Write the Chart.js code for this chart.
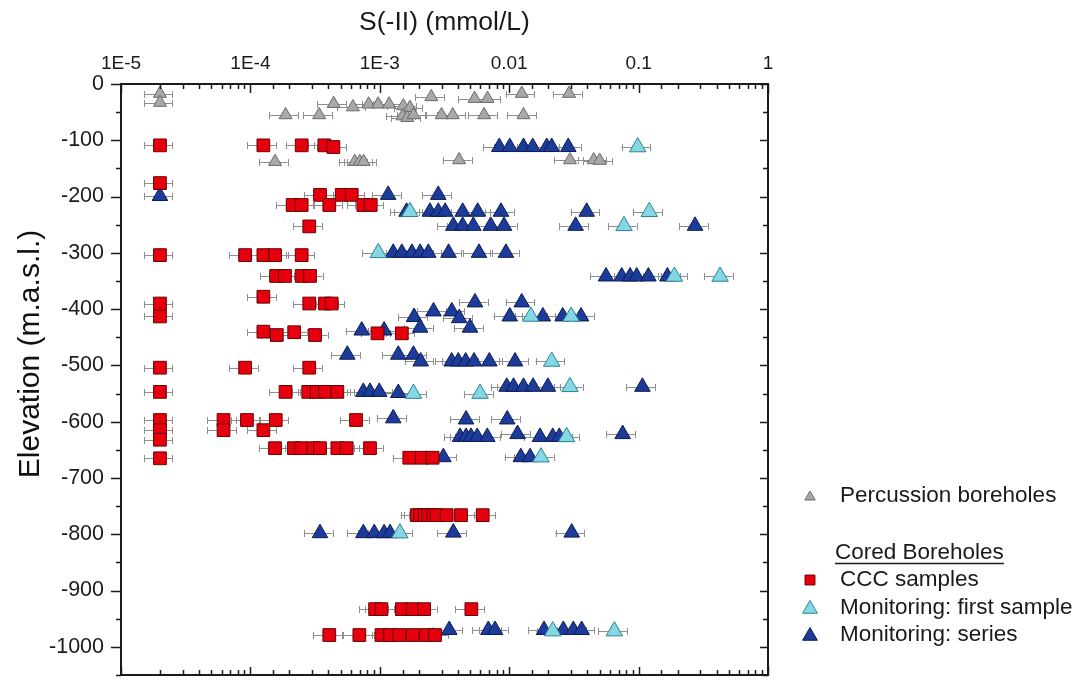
<!DOCTYPE html>
<html>
<head>
<meta charset="utf-8">
<script src="https://cdn.jsdelivr.net/npm/chart.js@4/dist/chart.umd.min.js"></script>
<style>
  html, body { margin: 0; padding: 0; background: #fff; }
</style>
</head>
<body>
<canvas id="c" width="1079" height="682"></canvas>
<script>
// S(-II) (mmol/L) vs elevation (m.a.s.l.), values as [conc, elevation]
const percussion = [
  [2e-5, -17], [2e-5, -33], [2.5e-3, -23], [5.4e-3, -26], [6.8e-3, -26], [0.0125, -17], [0.029, -17],
  [4.4e-4, -35], [6.2e-4, -41], [8.2e-4, -36], [9.7e-4, -36], [1.18e-3, -36], [1.52e-3, -39], [1.71e-3, -42],
  [1.87e-4, -55], [3.4e-4, -55], [1.5e-3, -57], [1.63e-3, -60], [1.82e-3, -55], [3.0e-3, -55], [3.66e-3, -55],
  [6.4e-3, -55], [0.0129, -55],
  [1.55e-4, -138], [6.4e-4, -138], [7.0e-4, -138], [7.5e-4, -138], [4.1e-3, -135], [0.0295, -135],
  [0.045, -135], [0.050, -136]
];

const cccSamples = [
  [2e-5, -109], [1.26e-4, -109], [2.49e-4, -109], [3.73e-4, -109], [4.38e-4, -112],
  [2e-5, -176],
  [3.45e-4, -197], [5.08e-4, -197], [6.07e-4, -197],
  [2.12e-4, -215], [2.49e-4, -215], [4.07e-4, -215], [7.46e-4, -215], [8.51e-4, -215],
  [2.85e-4, -253],
  [2e-5, -304], [9.1e-5, -304], [1.26e-4, -304], [1.55e-4, -304], [2.49e-4, -304],
  [1.58e-4, -341], [1.85e-4, -341], [2.49e-4, -341], [2.89e-4, -341],
  [1.26e-4, -378],
  [2e-5, -390], [2.85e-4, -390], [3.77e-4, -390], [4.25e-4, -390],
  [2e-5, -413],
  [1.26e-4, -440], [1.6e-4, -446], [2.18e-4, -441], [3.16e-4, -446], [9.6e-4, -443], [1.48e-3, -443],
  [2e-5, -504], [9.1e-5, -504], [2.85e-4, -504],
  [2e-5, -547], [1.87e-4, -547], [2.8e-4, -547], [3.25e-4, -547], [3.77e-4, -547], [4.7e-4, -547],
  [2e-5, -597], [6.2e-5, -597], [9.4e-5, -597], [1.57e-4, -597], [6.55e-4, -597],
  [2e-5, -615], [6.2e-5, -615], [1.26e-4, -615],
  [2e-5, -632],
  [1.55e-4, -647], [2.17e-4, -647], [2.46e-4, -647], [3.06e-4, -647], [3.45e-4, -647], [4.7e-4, -647],
  [5.55e-4, -647], [8.4e-4, -647],
  [2e-5, -665], [1.69e-3, -664], [2.11e-3, -664], [2.56e-3, -664],
  [1.93e-3, -766], [2.05e-3, -766], [2.23e-3, -766], [2.37e-3, -766], [2.59e-3, -766], [2.75e-3, -766],
  [3.29e-3, -766], [4.24e-3, -766], [6.24e-3, -766],
  [9.2e-4, -933], [1.03e-3, -933], [1.48e-3, -933], [1.8e-3, -933], [2.2e-3, -933], [5.1e-3, -933],
  [4.07e-4, -979], [6.95e-4, -979], [1.03e-3, -979], [1.2e-3, -979], [1.42e-3, -979], [1.8e-3, -979],
  [2.28e-3, -979], [2.67e-3, -979]
];

const firstSample = [
  [0.0984, -112], [1.71e-3, -227], [0.121, -227], [0.0771, -252], [9.73e-4, -300], [0.189, -342],
  [0.426, -342], [0.0147, -413], [0.0301, -413], [0.0213, -493], [1.82e-3, -550], [5.95e-3, -550],
  [0.0295, -538], [0.0278, -627], [0.0176, -663], [1.43e-3, -798], [0.0217, -972], [0.0649, -972]
];

const monitoringSeries = [
  [8.38e-3, -112], [0.0101, -112], [0.0129, -112], [0.0152, -112], [0.0195, -112], [0.0213, -112], [0.0286, -112],
  [2e-5, -199], [1.16e-3, -197], [2.83e-3, -197],
  [1.61e-3, -227], [2.44e-3, -227], [2.83e-3, -227], [3.2e-3, -227], [4.37e-3, -227], [5.71e-3, -227],
  [8.64e-3, -227], [0.0397, -227],
  [3.7e-3, -252], [4.37e-3, -252], [5.28e-3, -252], [7.2e-3, -252], [9.12e-3, -252], [0.0326, -252], [0.273, -252],
  [1.27e-3, -300], [1.48e-3, -300], [1.77e-3, -300], [2.05e-3, -300], [2.37e-3, -300], [3.4e-3, -300],
  [5.84e-3, -300], [9.44e-3, -300],
  [0.056, -342], [0.074, -342], [0.0859, -342], [0.0967, -342], [0.119, -342], [0.167, -342],
  [5.44e-3, -388], [0.0125, -388],
  [2.6e-3, -404], [3.6e-3, -404],
  [1.84e-3, -414], [0.0101, -413], [0.0182, -413], [0.0259, -413], [0.0359, -413],
  [4.11e-3, -416],
  [2.05e-3, -433], [4.98e-3, -433],
  [7.25e-4, -438], [1.08e-3, -438],
  [5.61e-4, -481], [1.39e-3, -481], [1.82e-3, -481],
  [2.07e-3, -493], [3.59e-3, -493], [4.04e-3, -493], [4.61e-3, -493], [5.35e-3, -493], [7.02e-3, -493], [0.0111, -493],
  [9.57e-3, -538], [0.0108, -538], [0.0129, -538], [0.0153, -538], [0.0199, -538], [0.107, -538],
  [7.46e-4, -547], [8.4e-4, -547], [9.9e-4, -547], [1.39e-3, -549],
  [1.27e-3, -594], [4.64e-3, -596], [9.66e-3, -596],
  [4.17e-3, -627], [4.64e-3, -627], [5.07e-3, -627], [5.66e-3, -627], [6.77e-3, -627], [0.0116, -622],
  [0.0173, -627], [0.0217, -627], [0.0244, -627], [0.0753, -622],
  [3.1e-3, -663], [0.0123, -663], [0.0145, -663],
  [3.45e-4, -798], [7.46e-4, -798], [9.06e-4, -798], [1.08e-3, -798], [1.2e-3, -798], [3.7e-3, -797], [0.0304, -797],
  [3.44e-3, -970], [6.9e-3, -970], [7.77e-3, -970], [0.0186, -970], [0.0262, -970], [0.0313, -970], [0.0363, -970]
];

// axis tick labels
const xDecades = [1e-5, 1e-4, 1e-3, 0.01, 0.1, 1];
const xTickLabels = ['1E-5', '1E-4', '1E-3', '0.01', '0.1', '1'];
const yTickLabels = ['0', '-100', '-200', '-300', '-400', '-500', '-600', '-700', '-800', '-900', '-1000'];

// relative analytical uncertainty shown as horizontal error bars
const relErr = 0.25;

const FONT = 'Liberation Sans, Arial, Helvetica, sans-serif';

function toPoints(arr) {
  return arr.map(p => ({x: p[0], y: p[1]}));
}

function isDecade(v) {
  return xDecades.some(d => Math.abs(v - d) / d < 1e-6);
}

// horizontal error bars behind the markers
const errorBars = {
  id: 'errorBars',
  beforeDatasetsDraw(chart) {
    const {ctx, chartArea: a, scales: {x, y}} = chart;
    ctx.save();
    ctx.beginPath();
    ctx.rect(a.left, a.top, a.right - a.left, a.bottom - a.top);
    ctx.clip();
    ctx.strokeStyle = '#8f8f8f';
    ctx.lineWidth = 1;
    chart.data.datasets.forEach(ds => {
      ds.data.forEach(p => {
        const x0 = x.getPixelForValue(p.x * (1 - relErr));
        const x1 = x.getPixelForValue(p.x * (1 + relErr));
        const py = Math.round(y.getPixelForValue(p.y)) + 0.5;
        ctx.beginPath();
        ctx.moveTo(x0, py);
        ctx.lineTo(x1, py);
        ctx.moveTo(Math.round(x0) + 0.5, py - 3.5);
        ctx.lineTo(Math.round(x0) + 0.5, py + 3.5);
        ctx.moveTo(Math.round(x1) + 0.5, py - 3.5);
        ctx.lineTo(Math.round(x1) + 0.5, py + 3.5);
        ctx.stroke();
      });
    });
    ctx.restore();
  }
};

// frame with inward ticks on top/right/bottom, outward on the left
const frame = {
  id: 'frame',
  afterDraw(chart) {
    const {ctx, chartArea: a, scales: {x, y}} = chart;
    ctx.save();
    ctx.strokeStyle = '#1a1a1a';
    ctx.lineWidth = 1.5;
    ctx.beginPath();
    x.ticks.forEach(t => {
      const px = Math.round(x.getPixelForValue(t.value)) + 0.5;
      const major = isDecade(t.value);
      ctx.moveTo(px, a.top);
      ctx.lineTo(px, a.top + (major ? 9 : 5));
      ctx.moveTo(px, a.bottom);
      ctx.lineTo(px, a.bottom - (major ? 8 : 5));
    });
    y.ticks.forEach(t => {
      const py = Math.round(y.getPixelForValue(t.value)) + 0.5;
      const major = t.value % 100 === 0;
      ctx.moveTo(a.left, py);
      ctx.lineTo(a.left - (major ? 10 : 5), py);
      ctx.moveTo(a.right, py);
      ctx.lineTo(a.right - (major ? 8 : 5), py);
    });
    ctx.stroke();
    ctx.lineWidth = 2;
    ctx.strokeRect(a.left, a.top, a.right - a.left, a.bottom - a.top);

    // y axis title
    ctx.fillStyle = '#111';
    ctx.font = '30px ' + FONT;
    ctx.textAlign = 'center';
    ctx.textBaseline = 'middle';
    ctx.translate(31, 354);
    ctx.rotate(-Math.PI / 2);
    ctx.fillText('Elevation (m.a.s.l.)', 0, 0);
    ctx.restore();
  }
};

// legend to the right of the plot
const sideLegend = {
  id: 'sideLegend',
  afterDraw(chart) {
    const ctx = chart.ctx;
    const ds = chart.data.datasets;
    const rows = [
      {i: 0, y: 496, r: 6},
      {i: 1, y: 580, r: 7},
      {i: 2, y: 608, r: 8.5},
      {i: 3, y: 635, r: 8.5}
    ];
    ctx.save();
    ctx.font = '22.5px ' + FONT;
    ctx.textBaseline = 'middle';
    ctx.textAlign = 'left';
    rows.forEach(row => {
      const d = ds[row.i];
      ctx.fillStyle = d.backgroundColor;
      ctx.strokeStyle = d.borderColor;
      ctx.lineWidth = 1;
      Chart.helpers.drawPoint(ctx, {pointStyle: d.pointStyle, radius: row.r, rotation: 0, borderWidth: 1}, 810, row.y + (d.pointStyle === 'triangle' ? 1 : 0));
      ctx.fillStyle = '#1a1a1a';
      ctx.fillText(d.label, 840, row.y);
    });
    ctx.fillText('Cored Boreholes', 835, 553);
    const w = ctx.measureText('Cored Boreholes').width;
    ctx.strokeStyle = '#1a1a1a';
    ctx.lineWidth = 1.5;
    ctx.beginPath();
    ctx.moveTo(835, 563.5);
    ctx.lineTo(835 + w, 563.5);
    ctx.stroke();
    ctx.restore();
  }
};

new Chart(document.getElementById('c'), {
  type: 'scatter',
  data: {
    datasets: [
      {label: 'Percussion boreholes', data: toPoints(percussion), pointStyle: 'triangle', pointRadius: 7.5,
       backgroundColor: '#a8a8a8', borderColor: '#6a6a6a', borderWidth: 1},
      {label: 'CCC samples', data: toPoints(cccSamples), pointStyle: 'rect', pointRadius: 9,
       backgroundColor: '#e6000e', borderColor: '#6b0000', borderWidth: 1},
      {label: 'Monitoring: first sample', data: toPoints(firstSample), pointStyle: 'triangle', pointRadius: 9.5,
       backgroundColor: '#86d7e4', borderColor: '#2c8594', borderWidth: 1},
      {label: 'Monitoring: series', data: toPoints(monitoringSeries), pointStyle: 'triangle', pointRadius: 9,
       backgroundColor: '#1d3c9a', borderColor: '#0c1b55', borderWidth: 1}
    ]
  },
  options: {
    responsive: false,
    animation: false,
    events: [],
    layout: {autoPadding: false, padding: {left: 0, right: 311, top: 0, bottom: 7}},
    plugins: {legend: {display: false}, tooltip: {enabled: false}},
    scales: {
      x: {
        type: 'logarithmic',
        position: 'top',
        min: 1e-5,
        max: 1,
        grid: {display: false},
        border: {display: false},
        afterFit(scale) {
          scale.height = 84;
          scale.paddingLeft = 0;
          scale.paddingRight = 0;
        },
        ticks: {
          autoSkip: false,
          maxRotation: 0,
          padding: 1,
          color: '#1a1a1a',
          font: {family: FONT, size: 19},
          callback(v) {
            const k = xDecades.findIndex(d => Math.abs(v - d) / d < 1e-6);
            return k >= 0 ? xTickLabels[k] : '';
          }
        },
        title: {
          display: true,
          text: 'S(-II) (mmol/L)',
          color: '#1a1a1a',
          font: {family: FONT, size: 26.5},
          padding: {top: 7, bottom: 0}
        }
      },
      y: {
        type: 'linear',
        min: -1050,
        max: 0,
        grid: {display: false},
        border: {display: false},
        afterFit(scale) {
          scale.width = 121;
          scale.paddingTop = 0;
          scale.paddingBottom = 0;
        },
        ticks: {
          stepSize: 50,
          autoSkip: false,
          padding: 9,
          color: '#1a1a1a',
          font: {family: FONT, size: 21.5},
          callback(v) {
            return v % 100 === 0 ? yTickLabels[Math.round(-v / 100)] : '';
          }
        }
      }
    }
  },
  plugins: [errorBars, frame, sideLegend]
});
</script>
</body>
</html>
